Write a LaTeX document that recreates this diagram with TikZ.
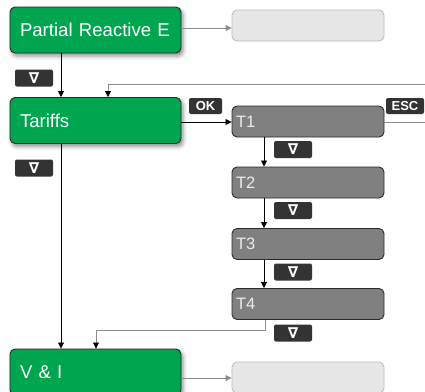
\documentclass[tikz,border=0pt]{standalone}
\usepackage{fontspec}
\setmainfont{Liberation Sans}
\newfontfamily\symfont{DejaVu Sans}
\usetikzlibrary{arrows.meta,shadows.blur}
\definecolor{mgreen}{HTML}{00A64F}
\definecolor{mborder}{HTML}{2A2A2A}
\definecolor{tgrey}{HTML}{808080}
\definecolor{lgrey}{HTML}{E6E6E6}
\definecolor{lborder}{HTML}{BDBDBD}
\definecolor{btn}{HTML}{333333}
\definecolor{lineg}{HTML}{8C8C8C}
\tikzset{
  greenbox/.style={draw=mborder, line width=0.9pt, fill=mgreen, rounded corners=5pt,
    minimum width=171pt, minimum height=46pt, text width=151pt, align=left,
    inner xsep=10pt, inner ysep=0pt, text=white, font=\fontsize{18.6}{20}\selectfont,
    blur shadow={shadow xshift=2pt, shadow yshift=-3pt, shadow blur radius=4pt, shadow opacity=45}},
  tbox/.style={draw=mborder, line width=0.9pt, fill=tgrey, rounded corners=5pt,
    minimum width=152pt, minimum height=31pt, text width=144pt, align=left,
    inner xsep=4pt, inner ysep=0pt, text=white!92!black, font=\fontsize{16.5}{18}\selectfont},
  lbox/.style={draw=lborder, line width=0.9pt, fill=lgrey, rounded corners=5pt,
    minimum width=152pt, minimum height=31pt, inner sep=0pt},
  keybtn/.style={fill=btn, rounded corners=2pt, minimum width=38pt, minimum height=17pt,
    inner sep=0pt, text=white, font=\symfont\bfseries\fontsize{15}{15}\selectfont},
  txtbtn/.style={fill=btn, rounded corners=2pt, minimum height=16pt,
    inner sep=0pt, text=white, font=\bfseries\fontsize{13}{13}\selectfont},
  blk/.style={draw=black, line width=0.8pt, -{Triangle[length=6pt,width=6pt,color=black]}},
  gry/.style={draw=lineg, line width=0.9pt},
  gryarr/.style={gry, -{Triangle[length=6pt,width=6pt]}},
}
\begin{document}
\begin{tikzpicture}[x=1pt,y=-1pt]
\useasboundingbox (0,0) rectangle (425,391);
\clip (0,0) rectangle (425,391);
% green boxes
\node[greenbox] (pre) at (95.5,30) {Partial Reactive E};
\node[greenbox] (tar) at (95.5,120.5) {Tariffs};
\node[greenbox] (vi) at (95.5,372) {V \& I};
% light grey boxes
\node[lbox] (g1) at (308,25.5) {};
\node[lbox] (g2) at (308,377.5) {};
% tariff boxes
\node[tbox] (t1) at (308,121.5) {T1};
\node[tbox] (t2) at (308,182.5) {T2};
\node[tbox] (t3) at (308,244) {T3};
\node[tbox] (t4) at (308,304) {T4};
% buttons
\node[keybtn] (k1) at (34,78) {∇};
\node[keybtn] (k2) at (34,168) {∇};
\node[keybtn] (k3) at (293,149.5) {∇};
\node[keybtn] (k4) at (293,210.5) {∇};
\node[keybtn] (k5) at (293,272) {∇};
\node[keybtn] (k6) at (293,333) {∇};
\node[txtbtn, minimum width=33pt] (ok) at (205.5,106) {OK};
\node[txtbtn, minimum width=38pt] (esc) at (405,106) {ESC};
% coordinates
\coordinate (fbR) at (425,84);
\coordinate (fbL) at (108,84);
\coordinate (escR) at (425,122);
\coordinate (t4a) at (265,330);
\coordinate (t4b) at (96,330);
% connectors
\draw[gryarr] (pre.east |- 0,28) -- (g1.west |- 0,28);
\draw[blk] (pre.south -| 61,0) -- (tar.north -| 61,0);
\draw[gry] (fbR) -- (fbL);
\draw[blk, draw=lineg] (fbL) -- (tar.north -| fbL);
\draw[blk] (tar.east |- 0,122) -- (t1.west |- 0,122);
\draw[gry] (t1.east |- 0,122) -- (escR);
\draw[blk] (t1.south -| 264,0) -- (t2.north -| 264,0);
\draw[blk] (t2.south -| 264,0) -- (t3.north -| 264,0);
\draw[blk] (t3.south -| 264,0) -- (t4.north -| 264,0);
\draw[gry] (t4.south -| t4a) -- (t4a) -- (t4b);
\draw[blk, draw=lineg] (t4b) -- (vi.north -| t4b);
\draw[blk] (tar.south -| 61,0) -- (vi.north -| 61,0);
\draw[gryarr] (vi.east |- 0,378) -- (g2.west |- 0,378);
\end{tikzpicture}
\end{document}
